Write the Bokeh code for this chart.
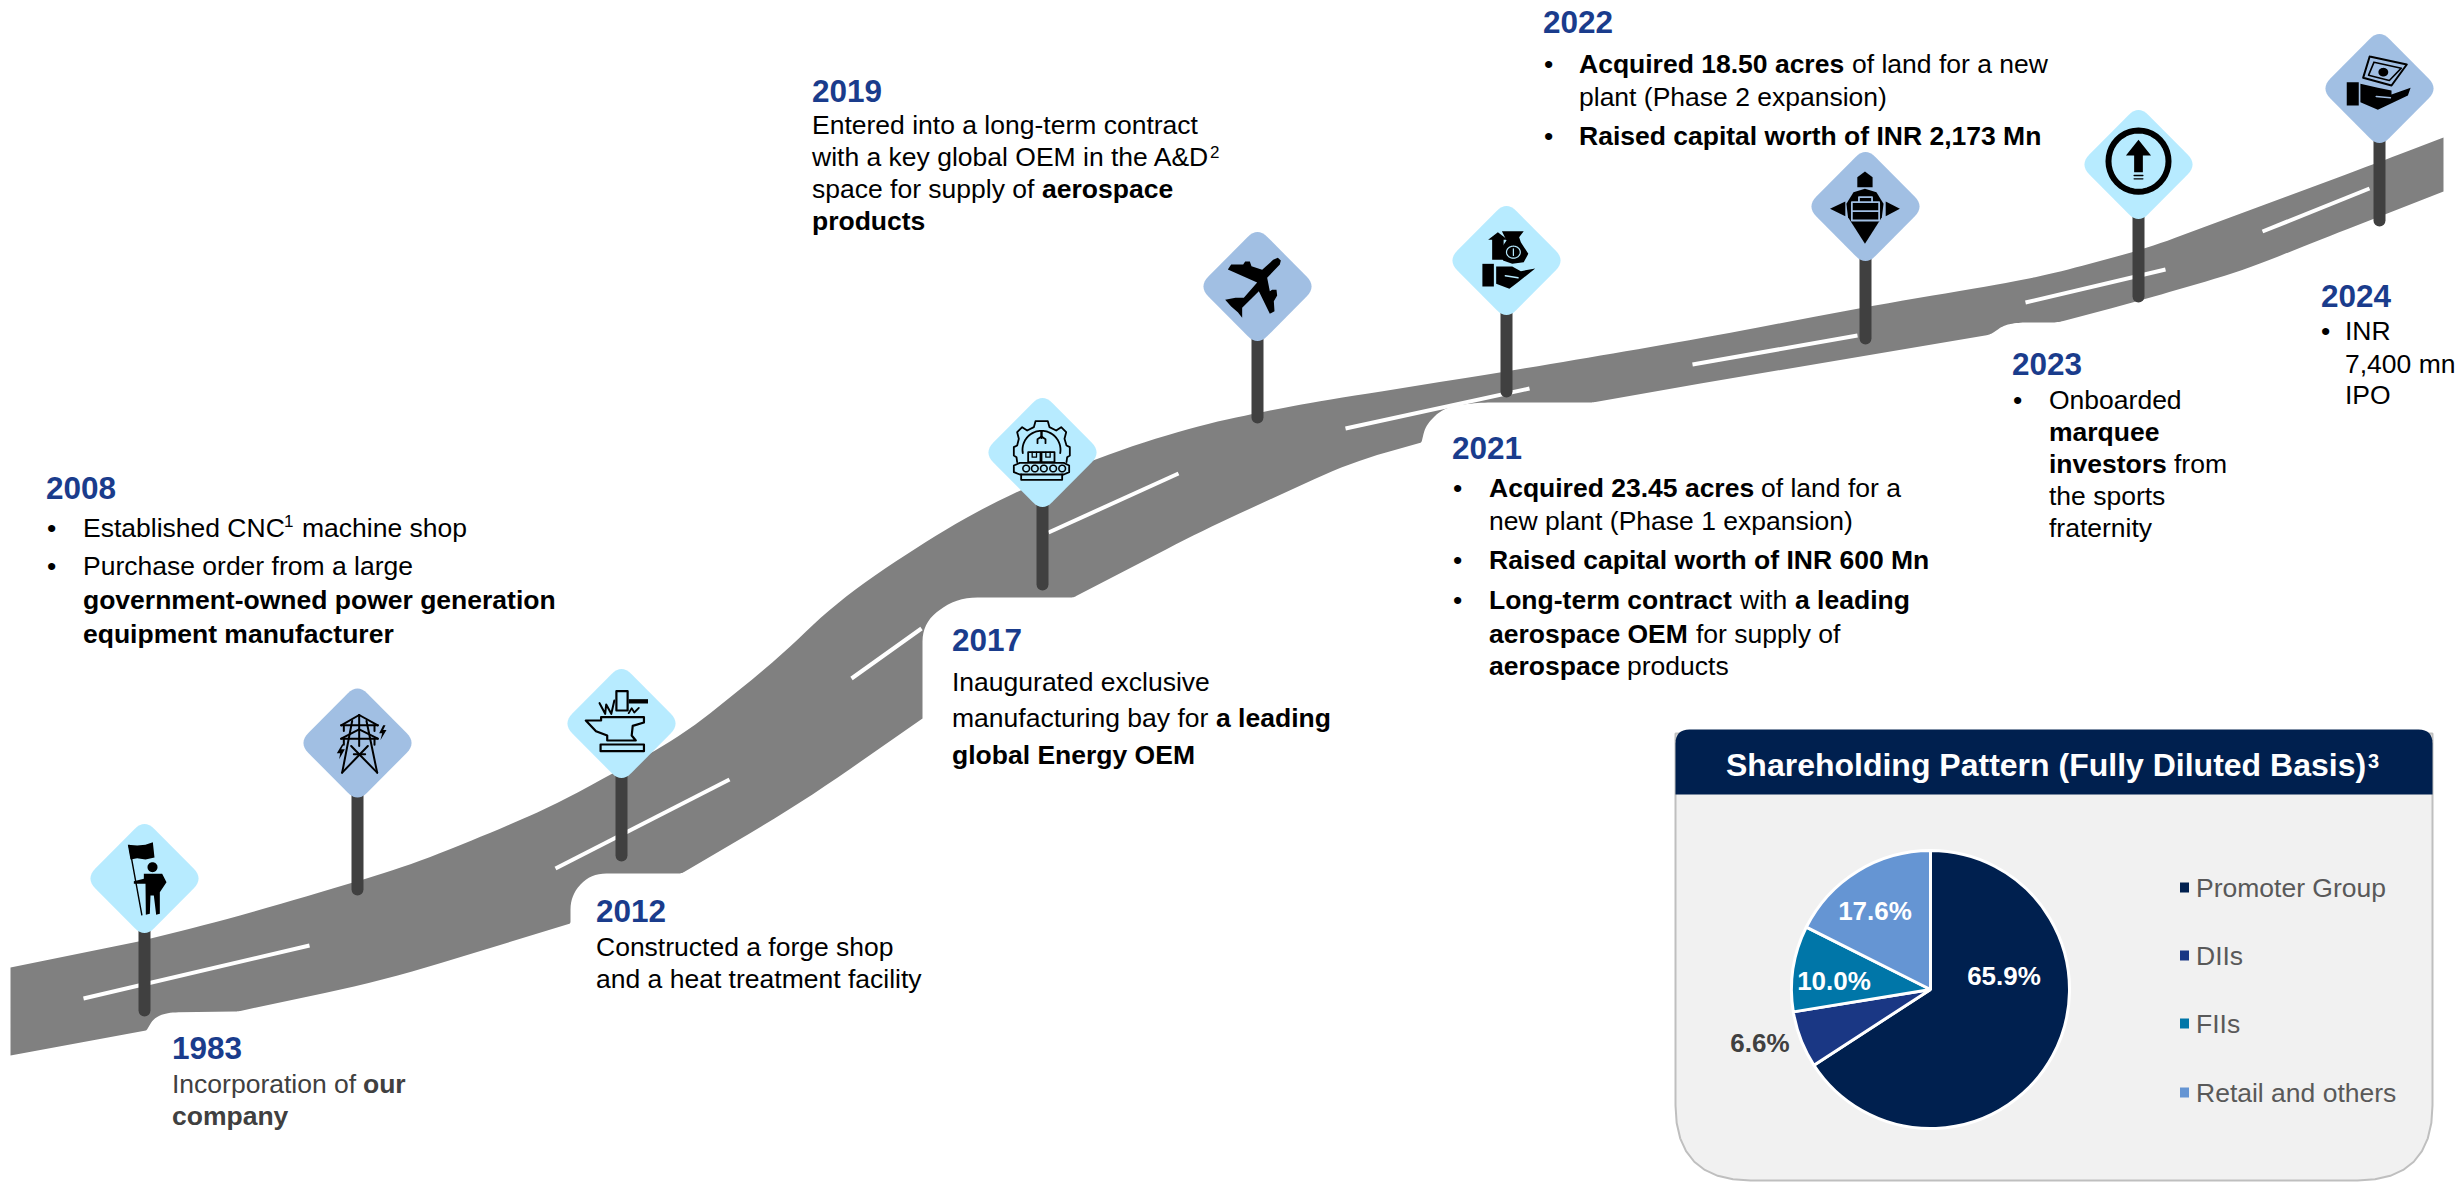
import math
from bokeh.plotting import figure
from bokeh.models import Range1d
from bokeh.core.properties import value
from bokeh.embed import file_html
from bokeh.resources import INLINE

# ---------- chart data ----------
SHARE_CATEGORIES = ["Promoter Group", "DIIs", "FIIs", "Retail and others"]
SHARE_VALUES = [65.9, 6.6, 10.0, 17.6]
SHARE_LABELS = ["65.9%", "6.6%", "10.0%", "17.6%"]
SHARE_COLORS = ["#00204F", "#1A3784", "#0076A8", "#6595D3"]
CARD_TITLE = "Shareholding Pattern (Fully Diluted Basis)"
YEARS = ["1983", "2008", "2012", "2017", "2019", "2021", "2022", "2023", "2024"]

# ---------- page geometry: coordinates are page pixels, y measured down ----------
W, H = 2456, 1182
def Y(v):
    return H - v
def YS(vs):
    return [H - v for v in vs]

p = figure(width=W, height=H, x_range=Range1d(0, W), y_range=Range1d(0, H),
           output_backend="svg", toolbar_location=None, min_border=0,
           x_axis_location=None, y_axis_location=None, outline_line_color=None,
           background_fill_color="white", border_fill_color="white")
p.grid.visible = False

def rounded(pts):
    """pts: (x, y, r) outline; corners with r > 0 are rounded by a quadratic curve."""
    out = []
    n = len(pts)
    for i, (x, y, r) in enumerate(pts):
        if r <= 0:
            out.append((x, y))
            continue
        ax, ay, _ = pts[i - 1]
        bx, by, _ = pts[(i + 1) % n]
        la = math.hypot(ax - x, ay - y)
        lb = math.hypot(bx - x, by - y)
        ra = min(r, la / 2)
        rb = min(r, lb / 2)
        s = (x + (ax - x) * ra / la, y + (ay - y) * ra / la)
        e = (x + (bx - x) * rb / lb, y + (by - y) * rb / lb)
        for k in range(9):
            t = k / 8
            out.append(((1 - t) ** 2 * s[0] + 2 * t * (1 - t) * x + t * t * e[0],
                        (1 - t) ** 2 * s[1] + 2 * t * (1 - t) * y + t * t * e[1]))
    return [q[0] for q in out], [q[1] for q in out]

def fill(xs, ys, color, line=None, lw=0):
    p.patch(xs, YS(ys), fill_color=color, line_color=line, line_width=lw)

# ---------- road ----------
road = [
    (10, 967, 0), (138, 941, 0), (223, 920, 60), (350, 883, 60), (417, 862, 60), (503, 827, 60),
    (557, 803, 60), (612, 773, 40), (679, 737, 40), (776, 660, 60), (834, 603, 60), (915, 547, 60),
    (995, 500, 60), (1097, 457, 60), (1190, 427, 60), (1263, 411, 60), (1323, 400, 60), (1500, 372, 60),
    (1600, 355, 60), (1700, 338, 60), (1873, 305, 60), (2004, 283, 60), (2053, 273, 30), (2146, 248, 30),
    (2375, 163, 40), (2443, 137, 0),
    (2443, 191, 0), (2310, 243, 40), (2243, 270, 40), (2140, 300, 30), (2057, 322, 6), (2017, 322, 10),
    (2003, 325, 6), (1990, 334, 4), (1700, 383, 0), (1592, 402, 3), (1477, 402, 14), (1443, 407, 14),
    (1425, 425, 10), (1421, 442, 2), (1350, 462, 40), (1202, 530, 40), (1073, 597, 3), (955, 597, 22),
    (922, 623, 18), (922, 718, 0), (800, 803, 60), (681, 873, 3), (590, 873, 16), (570, 895, 14),
    (570, 923, 2), (383, 980, 60), (237, 1011, 3), (166, 1012, 12), (153, 1018, 6), (146, 1030, 2),
    (10, 1055, 0),
]
xs, ys = rounded(road)
fill(xs, ys, "#808080")

# lane dashes
DASHES = [(83, 998, 309, 945), (555, 868, 729, 779), (851, 678, 921, 628), (1048, 532, 1178, 473),
          (1345, 428, 1529, 388), (1692, 364, 1857, 335), (2025, 302, 2165, 269), (2262, 231, 2369, 188)]
p.multi_line([[d[0], d[2]] for d in DASHES], [[Y(d[1]), Y(d[3])] for d in DASHES],
             line_color="white", line_width=4)

# ---------- signs ----------
LIGHT, MID = "#B7EBFF", "#A1BFE3"
SIGNS = [(144, 878, 1016, LIGHT), (357, 742.5, 895, MID), (621, 723, 861, LIGHT),
         (1042, 452, 590, LIGHT), (1257, 286, 423, MID), (1506, 260, 397, LIGHT),
         (1865, 206, 344, MID), (2138, 164, 302, LIGHT), (2379, 88, 226, MID)]
for cx, cy, bottom, col in SIGNS:
    p.line([cx, cx], [Y(cy), Y(bottom - 6)], line_color="#404040", line_width=12, line_cap="round")
for cx, cy, bottom, col in SIGNS:
    xs, ys = rounded([(cx, cy - 59.5, 14), (cx + 59, cy, 14), (cx, cy + 59.5, 14), (cx - 59, cy, 14)])
    fill(xs, ys, col)

# ---------- icons (outlines given in zoomed sketch units around the sign centre) ----------
class Icon:
    def __init__(self, cx, cy, zx, zy, sx=3.0, sy=3.0):
        self.c = (cx, cy, zx, zy, sx, sy)
    def map(self, pts):
        cx, cy, zx, zy, sx, sy = self.c
        return [cx + (a - zx) / sx for a, b in pts], [cy + (b - zy) / sy for a, b in pts]
    def poly(self, pts, color="black"):
        xs, ys = self.map(pts)
        fill(xs, ys, color)
    def line(self, pts, lw=1.8, color="black"):
        xs, ys = self.map(pts)
        p.line(xs, YS(ys), line_color=color, line_width=lw, line_cap="round", line_join="round")
    def ellipse_pts(self, x, y, rx, ry, a0=0, a1=360, n=40):
        return [(x + rx * math.cos(math.radians(a0 + (a1 - a0) * i / n)),
                 y + ry * math.sin(math.radians(a0 + (a1 - a0) * i / n))) for i in range(n + 1)]
    def disc(self, x, y, rx, ry, color="black"):
        self.poly(self.ellipse_pts(x, y, rx, ry), color)
    def ring(self, x, y, rx, ry, lw=1.8, color="black"):
        self.line(self.ellipse_pts(x, y, rx, ry), lw, color)
    def box(self, x0, y0, x1, y1, lw=1.8, color="black"):
        self.line([(x0, y0), (x1, y0), (x1, y1), (x0, y1), (x0, y0)], lw, color)

# 1983 flag bearer
ic = Icon(144, 878, 162, 639)
ic.poly([(112, 538), (140, 540), (165, 538), (187, 530), (192, 576), (165, 582), (140, 578), (120, 582)])
ic.line([(116, 540), (154, 748)], 1.4)
ic.disc(186, 605, 15, 15)
ic.poly([(160, 625), (215, 625), (228, 650), (208, 680), (208, 745), (197, 748), (190, 690), (180, 690),
         (178, 745), (166, 748), (165, 655), (130, 655), (130, 647), (160, 640)])

# 2008 pylon
ic = Icon(357, 742.5, 801, 231)
for seg in [[(752, 178), (862, 178)], [(752, 218), (862, 218)], [(806, 147), (752, 178)], [(806, 147), (862, 178)],
            [(806, 190), (752, 218)], [(806, 190), (862, 218)], [(785, 165), (755, 320)], [(828, 165), (860, 320)],
            [(782, 240), (860, 320)], [(832, 240), (755, 320)], [(790, 265), (824, 265)], [(760, 178), (760, 195)],
            [(852, 178), (852, 195)], [(760, 218), (760, 236)], [(852, 218), (852, 236)], [(806, 147), (806, 240)]]:
    ic.line(seg, 2)
ic.poly([(878, 178), (866, 202), (875, 202), (870, 222), (888, 192), (878, 192), (885, 178)])
ic.poly([(755, 235), (739, 262), (749, 262), (746, 280), (763, 250), (752, 250), (760, 235)])

# 2012 anvil
ic = Icon(621, 723, 1218, 189, 1.96, 3.0)
ic.box(1208, 92, 1230, 150, 2.2)
ic.poly([(1232, 116), (1270, 116), (1270, 129), (1232, 129)])
ic.line([(1175, 128), (1186, 160), (1188, 132), (1198, 160), (1204, 120)], 2)
ic.line([(1232, 158), (1238, 143), (1243, 156), (1252, 142)], 1.8)
ic.line([(1178, 170), (1262, 170), (1262, 186), (1240, 196), (1238, 225), (1246, 240), (1190, 240), (1190, 225),
         (1168, 212), (1148, 180), (1178, 180), (1178, 170)], 2.2)
ic.box(1177, 252, 1262, 272, 2.2)

# 2017 factory gear
ic = Icon(1042, 452, 156, 756)
ic.line([(80, 785), (78, 770), (70, 765), (70, 740), (80, 735), (85, 715), (80, 695), (95, 680), (110, 690),
         (130, 680), (135, 662), (172, 662), (177, 680), (197, 690), (212, 680), (227, 695), (222, 715),
         (228, 735), (238, 740), (238, 765), (230, 770), (228, 785)], 1.8)
ic.line(ic.ellipse_pts(153, 748, 57, 57, 170, 370), 1.8)
ic.line([(153, 692), (153, 712)], 2.4)
ic.line([(141, 728), (141, 716), (153, 708), (165, 716), (165, 728)], 1.8)
ic.box(113, 755, 150, 785, 1.8)
ic.box(153, 755, 192, 785, 1.8)
ic.line([(125, 755), (125, 770), (138, 770), (138, 755)], 1.3)
ic.line([(166, 755), (166, 770), (179, 770), (179, 755)], 1.3)
ic.line([(88, 787), (220, 787), (236, 795), (236, 815), (220, 822), (88, 822), (70, 815), (70, 795), (88, 787)], 1.8)
for bx in [107, 133, 160, 188, 215]:
    ic.ring(bx, 804, 10, 10, 1.5)
ic.line([(92, 822), (92, 838), (215, 838), (215, 822)], 1.8)

# 2019 aeroplane
ic = Icon(1257, 286, 801, 258)
ic.poly([(871, 180), (862, 172), (848, 178), (815, 208), (783, 197), (778, 183), (764, 183), (758, 192), (722, 192),
         (712, 207), (800, 246), (760, 292), (735, 292), (704, 298), (722, 318), (742, 335), (755, 352), (755, 322),
         (805, 272), (838, 340), (852, 332), (850, 302), (860, 285), (858, 268), (845, 268), (838, 272), (830, 232), (868, 192)])

# 2021 hand with money bag
ic = Icon(1506, 260, 1230, 180, 1.742, 3.0)
ic.poly([(1222, 92), (1260, 92), (1252, 110), (1255, 125), (1268, 160), (1260, 185), (1240, 190), (1224, 180), (1218, 150), (1230, 120)])
ic.poly([(1215, 95), (1232, 118), (1225, 118), (1225, 178), (1205, 178), (1205, 118), (1198, 118)])
ic.ring(1242, 155, 12, 18, 1.2, LIGHT)
ic.line([(1242, 145), (1242, 165)], 1.2, LIGHT)
ic.poly([(1188, 190), (1208, 190), (1208, 258), (1188, 258)])
ic.poly([(1212, 198), (1240, 198), (1255, 212), (1280, 204), (1250, 245), (1235, 265), (1212, 250)])
ic.line([(1228, 226), (1250, 232)], 1.5, LIGHT)

# 2022 expansion pin
ic = Icon(1865, 206, 485, 618, 1.832, 3.0)
ic.poly([(484, 513), (498, 530), (498, 560), (470, 560), (470, 530)])
ic.poly([(420, 625), (448, 603), (448, 647)])
ic.poly([(548, 625), (522, 603), (522, 647)])
ic.poly([(484, 565), (505, 575), (518, 610), (515, 650), (484, 730), (453, 650), (450, 610), (463, 575)])
ic.box(460, 605, 510, 660, 1.8, MID)
ic.line([(473, 605), (473, 590), (497, 590), (497, 605)], 1.8, MID)
ic.line([(460, 632), (510, 632)], 1.8, MID)

# 2023 arrow in circle
ic = Icon(2138, 164, 985, 492, 1.832, 3.0)
ic.ring(985, 482, 55, 92, 6)
ic.poly([(985, 418), (1008, 465), (993, 465), (993, 515), (977, 515), (977, 465), (962, 465)])
ic.line([(977, 525), (993, 525)], 1.4)
ic.line([(977, 535), (993, 535)], 1.4)

# 2024 hand with banknote
ic = Icon(2379, 88, 1428, 264, 1.832, 3.0)
ic.line([(1410, 168), (1478, 192), (1450, 255), (1398, 232), (1410, 168)], 2)
ic.line([(1418, 185), (1468, 203), (1446, 240), (1408, 224), (1418, 185)], 1.6)
ic.disc(1435, 215, 9, 13)
ic.poly([(1368, 245), (1390, 245), (1390, 315), (1368, 315)])
ic.poly([(1393, 250), (1425, 262), (1450, 270), (1450, 282), (1485, 262), (1480, 285), (1425, 328), (1393, 305)])
ic.line([(1422, 288), (1448, 292)], 1.5, MID)

# ---------- texts ----------
BLUE = "#1A3C8C"
INK = "#000000"
DARK = "#404040"
FONT = value("Liberation Sans")
BODY = "26.5px"
BASE_K = 0.32   # alphabetic baseline sits this many em lower in the renderer
DX = -1.5

def txt(x, y, s, bold=False, color=INK, size=BODY, anchor="left", base="alphabetic"):
    yy = y - BASE_K * float(size[:-2]) if base == "alphabetic" else y
    p.text([x + DX], [Y(yy)], text=[s], text_font=FONT, text_font_size=size,
           text_font_style="bold" if bold else "normal", text_color=color,
           text_align=anchor, text_baseline=base)

YEAR_POS = [(173, 1057.5), (47, 497.5), (597, 920.5), (953, 650), (813, 100.5), (1453, 457.5), (1544, 32), (2013, 373.5), (2322, 306)]
for yr, (x, y) in zip(YEARS, YEAR_POS):
    txt(x, y, yr, True, BLUE, "31.5px")

# 1983
txt(173, 1092, "Incorporation of ", color=DARK)
txt(364, 1092, "our", True, DARK)
txt(173, 1124, "company", True, DARK)
# 2008
txt(48, 536, "•"); txt(84, 536, "Established CNC"); txt(285, 526, "1", size="17px"); txt(303, 536, "machine shop")
txt(48, 574, "•"); txt(84, 574, "Purchase order from a large")
txt(84, 608, "government-owned power generation", True)
txt(84, 642, "equipment manufacturer", True)
# 2012
txt(597, 955, "Constructed a forge shop")
txt(597, 987, "and a heat treatment facility")
# 2017
txt(953, 690, "Inaugurated exclusive")
txt(953, 726, "manufacturing bay for "); txt(1217, 726, "a leading", True)
txt(953, 763, "global Energy OEM", True)
# 2019
txt(813, 133, "Entered into a long-term contract")
txt(813, 165, "with a key global OEM in the A&D"); txt(1211, 157, "2", size="17px")
txt(813, 197, "space for supply of "); txt(1043, 197, "aerospace", True)
txt(813, 229, "products", True)
# 2021
txt(1454, 496, "•"); txt(1490, 496, "Acquired 23.45 acres", True); txt(1762, 496, "of land for a")
txt(1490, 529, "new plant (Phase 1 expansion)")
txt(1454, 568, "•"); txt(1490, 568, "Raised capital worth of INR 600 Mn", True)
txt(1454, 608, "•"); txt(1490, 608, "Long-term contract", True); txt(1741, 608, "with"); txt(1796, 608, "a leading", True)
txt(1490, 642, "aerospace OEM", True); txt(1697, 642, "for supply of")
txt(1490, 674, "aerospace", True); txt(1628, 674, "products")
# 2022
txt(1545, 72, "•"); txt(1580, 72, "Acquired 18.50 acres", True); txt(1853, 72, "of land for a new")
txt(1580, 105, "plant (Phase 2 expansion)")
txt(1545, 144, "•"); txt(1580, 144, "Raised capital worth of INR 2,173 Mn", True)
# 2023
txt(2014, 408, "•"); txt(2050, 408, "Onboarded")
txt(2050, 440, "marquee", True)
txt(2050, 472, "investors", True); txt(2175, 472, "from")
txt(2050, 504, "the sports")
txt(2050, 536, "fraternity")
# 2024
txt(2322, 339, "•"); txt(2346, 339, "INR")
txt(2346, 372, "7,400 mn")
txt(2346, 403, "IPO")

# ---------- shareholding card ----------
L, Rt, T, HB, Bt = 1675, 2432, 729, 794, 1180
xs, ys = rounded([(L, T + 4, 0), (Rt, T + 4, 0), (Rt, Bt, 75), (L, Bt, 75)])
fill(xs, ys, "#F1F1F1", "#BFBFBF", 2)
xs, ys = rounded([(L, T, 14), (Rt, T, 14), (Rt, HB, 0), (L, HB, 0)])
fill(xs, ys, "#00204F")
txt(1727, 775, CARD_TITLE, True, "white", "32px")
txt(2369, 767, "3", True, "white", "20px")

# pie, drawn clockwise from twelve o'clock
total = sum(SHARE_VALUES)
start = math.pi / 2
PIE_X, PIE_Y, PIE_R = 1930, 989, 139
starts, ends = [], []
for v in SHARE_VALUES:
    end = start - v / total * 2 * math.pi
    starts.append(end)
    ends.append(start)
    start = end
p.wedge(x=[PIE_X] * 4, y=[Y(PIE_Y)] * 4, radius=PIE_R, start_angle=starts, end_angle=ends,
        fill_color=SHARE_COLORS, line_color="white", line_width=3)

LABEL_POS = [(2005, 975, "white"), (1761, 1042, DARK), (1835, 980, "white"), (1876, 910, "white")]
for s, (x, y, c) in zip(SHARE_LABELS, LABEL_POS):
    txt(x, y, s, True, c, "26px", "center", "middle")

LEGEND_Y = [887, 955, 1023, 1092]
for cat, col, y in zip(SHARE_CATEGORIES, SHARE_COLORS, LEGEND_Y):
    p.rect([2184], [Y(y)], width=9, height=10, fill_color=col, line_color=None)
    txt(2197, y + 9, cat, False, "#595959")

open("out.html", "w").write(file_html(p, INLINE))
